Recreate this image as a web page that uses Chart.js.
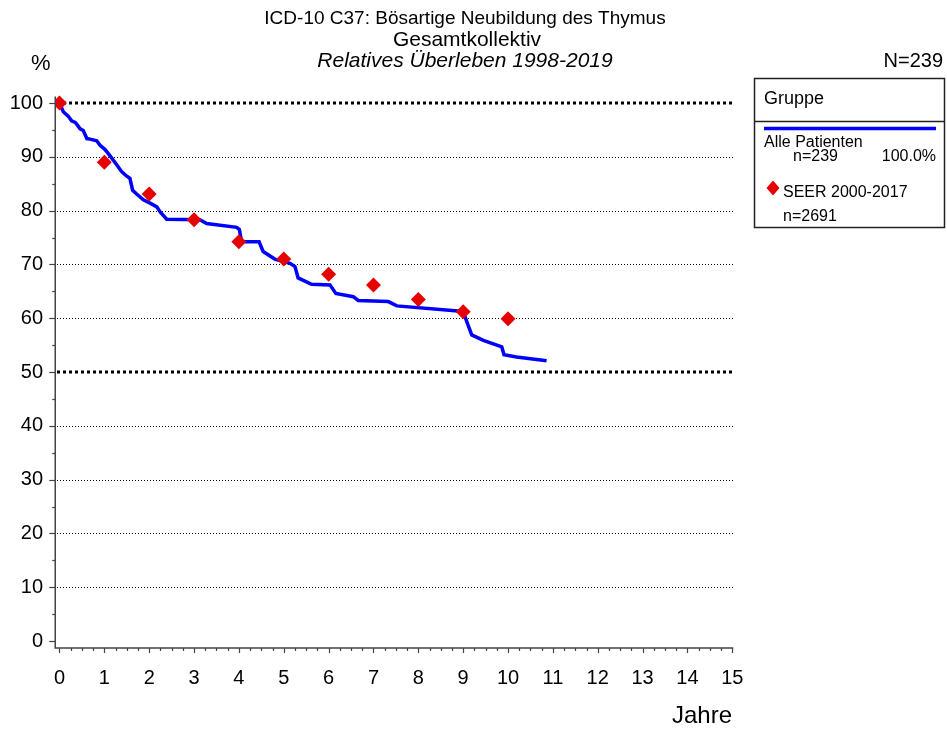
<!DOCTYPE html>
<html><head><meta charset="utf-8">
<script src="https://cdn.jsdelivr.net/npm/chart.js@4.4.1/dist/chart.umd.min.js"></script>
<style>html,body{margin:0;padding:0;background:#fff;}#wrap{width:947px;height:731px;}</style>
</head><body><div id="wrap"><canvas id="c" width="947" height="731"></canvas></div>
<script>
const titleLine1 = "ICD-10 C37: Bösartige Neubildung des Thymus";
const titleLine2 = "Gesamtkollektiv";
const titleLine3 = "Relatives Überleben 1998-2019";
const yUnitLabel = "%";
const totalN = "N=239";
const xAxisTitle = "Jahre";
const legendHeader = "Gruppe";
const legendGroup = "Alle Patienten";
const legendGroupN = "n=239";
const legendGroupPct = "100.0%";
const legendSeer = "SEER 2000-2017";
const legendSeerN = "n=2691";

const xTicks = [0,1,2,3,4,5,6,7,8,9,10,11,12,13,14,15];
const yTicks = [0,10,20,30,40,50,60,70,80,90,100];

const survYears = [0,0.085,0.20,0.27,0.35,0.40,0.46,0.53,0.61,0.68,0.83,0.90,1.01,1.09,1.28,1.39,1.50,1.57,1.63,1.72,1.87,2.02,2.17,2.24,2.39,3.13,3.28,3.95,4.01,4.06,4.45,4.54,4.80,5.14,5.25,5.32,5.62,6.03,6.16,6.55,6.66,7.33,7.52,8.82,8.93,9.04,9.19,9.45,9.86,9.91,10.19,10.86];
const survPct   = [100,98.4,97.5,96.7,96.4,95.9,95.2,94.9,93.4,93.3,93.0,92.2,91.4,90.6,88.5,87.2,86.4,86.0,83.8,83.1,82.0,81.4,80.7,79.8,78.4,78.3,77.6,76.9,76.5,74.2,74.2,72.4,71.0,70.2,69.6,67.5,66.3,66.2,64.6,64.0,63.3,63.1,62.3,61.4,61.3,60.3,56.9,55.9,54.7,53.2,52.8,52.1];

const seerYears = [0,1,2,3,4,5,6,7,8,9,10];
const seerPct   = [100,89.0,83.1,78.3,74.2,71.0,68.2,66.2,63.5,61.2,59.9];

const FONT = '"Liberation Sans", Arial, Helvetica, sans-serif';
const BLUE = 'rgb(0,0,255)';
const RED = 'rgb(230,0,0)';

function toPts(xs, ys){ return xs.map((x,i)=>({x:x, y:ys[i]})); }

const deco = {
  id: 'deco',
  beforeDatasetsDraw(chart){
    const {ctx, chartArea:a, scales:{x, y}} = chart;
    ctx.save();
    ctx.strokeStyle = '#000';
    yTicks.forEach(v => {
      if (v === 0) return;
      const bold = (v === 50 || v === 100);
      const py = Math.round(y.getPixelForValue(v)) + (bold ? 0 : 0.5);
      ctx.beginPath();
      ctx.lineWidth = bold ? 3 : 1;
      ctx.setLineDash(bold ? [3,3] : [1,2]);
      ctx.moveTo(a.left + 2, py);
      ctx.lineTo(a.right, py);
      ctx.stroke();
    });
    ctx.restore();
  },
  afterDraw(chart){
    const {ctx, chartArea:a, scales:{x, y}} = chart;
    ctx.save();
    ctx.strokeStyle = '#444';
    ctx.lineWidth = 1.5;
    ctx.setLineDash([]);
    const ax = a.left + 0.25, ay = a.bottom;
    ctx.beginPath();
    ctx.moveTo(ax, y.getPixelForValue(101.2));
    ctx.lineTo(ax, ay);
    ctx.lineTo(x.getPixelForValue(15) + 1, ay);
    ctx.stroke();
    ctx.lineWidth = 1.2;
    for (let v = 0; v <= 100; v += 5) {
      const py = Math.round(y.getPixelForValue(v)) + 0.5;
      const len = (v % 10 === 0) ? 6 : 3;
      ctx.beginPath(); ctx.moveTo(ax - len, py); ctx.lineTo(ax, py); ctx.stroke();
    }
    for (let q = 0; q <= 60; q++) {
      const px = Math.round(x.getPixelForValue(q / 4)) + 0.5;
      const len = (q % 4 === 0) ? 5 : 3;
      ctx.beginPath(); ctx.moveTo(px, ay); ctx.lineTo(px, ay + len); ctx.stroke();
    }
    ctx.fillStyle = '#000';
    ctx.textBaseline = 'middle';
    ctx.textAlign = 'center';
    ctx.font = '19px ' + FONT;
    ctx.fillText(titleLine1, 465, 19);
    ctx.font = '21px ' + FONT;
    ctx.fillText(titleLine2, 467, 40);
    ctx.font = 'italic 21px ' + FONT;
    ctx.fillText(titleLine3, 465, 61);
    ctx.textAlign = 'left';
    ctx.font = '22px ' + FONT;
    ctx.fillText(yUnitLabel, 31, 64);
    ctx.textAlign = 'right';
    ctx.font = '20px ' + FONT;
    ctx.fillText(totalN, 943, 61);
    ctx.font = '24px ' + FONT;
    ctx.fillText(xAxisTitle, 732, 716);
    ctx.strokeStyle = '#222';
    ctx.lineWidth = 1.5;
    ctx.strokeRect(754.5, 78.5, 190, 149);
    ctx.beginPath(); ctx.moveTo(754.5, 121.5); ctx.lineTo(944.5, 121.5); ctx.stroke();
    ctx.textAlign = 'left';
    ctx.font = '18px ' + FONT;
    ctx.fillText(legendHeader, 764, 99);
    ctx.strokeStyle = BLUE; ctx.lineWidth = 3.5;
    ctx.beginPath(); ctx.moveTo(764, 128.5); ctx.lineTo(936, 128.5); ctx.stroke();
    ctx.font = '16px ' + FONT;
    ctx.fillText(legendGroup, 764, 143);
    ctx.fillText(legendGroupN, 793, 157);
    ctx.textAlign = 'right';
    ctx.fillText(legendGroupPct, 936, 157);
    ctx.textAlign = 'left';
    ctx.fillStyle = RED;
    ctx.beginPath();
    ctx.moveTo(773, 180.5); ctx.lineTo(779.5, 188); ctx.lineTo(773, 195.5); ctx.lineTo(766.5, 188); ctx.closePath();
    ctx.fill();
    ctx.fillStyle = '#000';
    ctx.fillText(legendSeer, 783, 193);
    ctx.fillText(legendSeerN, 783, 217);
    ctx.restore();
  }
};

new Chart(document.getElementById('c'), {
  type: 'scatter',
  data: {
    datasets: [
      { label: legendSeer, data: toPts(seerYears, seerPct), showLine: false,
        pointStyle: 'rectRot', pointRadius: 7.5, pointBackgroundColor: RED, pointBorderWidth: 0, order: 0 },
      { label: legendGroup, data: toPts(survYears, survPct), showLine: true,
        borderColor: BLUE, borderWidth: 3.5, pointRadius: 0, tension: 0, fill: false, order: 1 }
    ]
  },
  options: {
    responsive: false,
    animation: false,
    devicePixelRatio: 1,
    layout: { padding: { left: 0, right: 212, top: 95, bottom: 0 } },
    plugins: { legend: { display: false }, tooltip: { enabled: false }, title: { display: false } },
    scales: {
      x: {
        type: 'linear', min: -0.1, max: 15.06,
        afterBuildTicks: s => { s.ticks = xTicks.map(v => ({ value: v })); },
        afterFit: s => { s.height = 83; },
        grid: { display: false, drawTicks: false },
        border: { display: false },
        ticks: { color: '#000', font: { size: 20, family: FONT }, padding: 18, maxRotation: 0, autoSkip: false }
      },
      y: {
        type: 'linear', min: -1.3, max: 101.5,
        afterBuildTicks: s => { s.ticks = yTicks.map(v => ({ value: v })); },
        afterFit: s => { s.width = 55; },
        grid: { display: false, drawTicks: false },
        border: { display: false },
        ticks: { color: '#000', font: { size: 20, family: FONT }, padding: 12, autoSkip: false }
      }
    }
  },
  plugins: [deco]
});
</script></body></html>
